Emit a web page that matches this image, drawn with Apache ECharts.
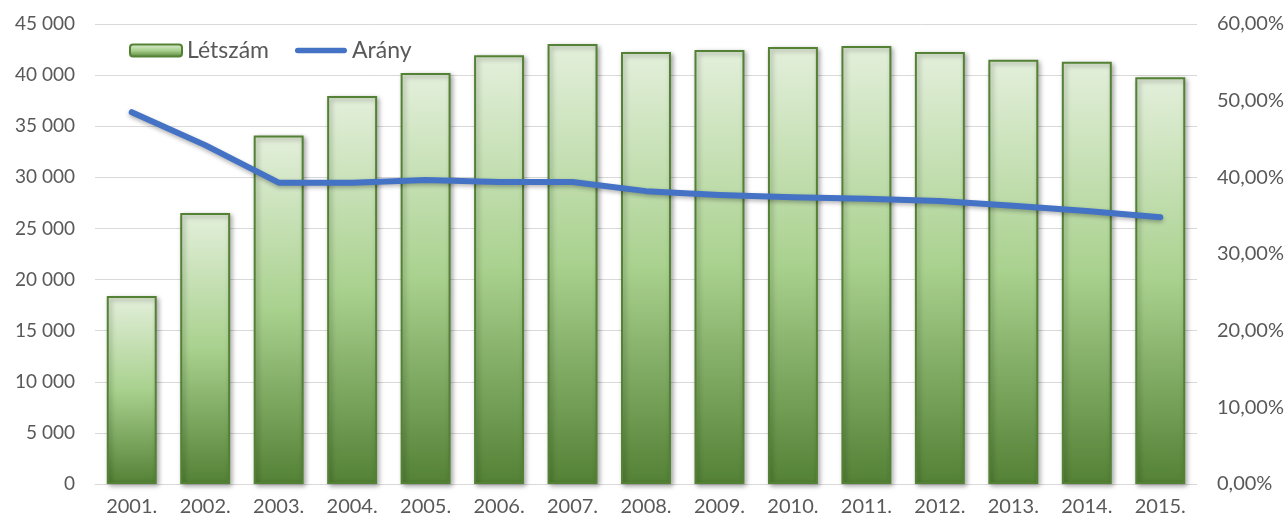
<!DOCTYPE html>
<html>
<head>
<meta charset="utf-8">
<script src="https://cdn.jsdelivr.net/npm/echarts@6/dist/echarts.min.js"></script>
<style>
    html, body { margin: 0; padding: 0; background: #fff; }
    #chart_main { width: 1288px; height: 521px; }
</style>
</head>
<body>
<div id="chart_main"></div>
<script>
// data
var years = ['2001.', '2002.', '2003.', '2004.', '2005.', '2006.', '2007.', '2008.', '2009.', '2010.', '2011.', '2012.', '2013.', '2014.', '2015.'];
var letszam = [18400, 26500, 34100, 37950, 40200, 41950, 43050, 42250, 42450, 42750, 42850, 42250, 41500, 41300, 39800];
var arany = [48.5, 44.2, 39.3, 39.3, 39.65, 39.4, 39.4, 38.2, 37.7, 37.4, 37.2, 36.9, 36.3, 35.6, 34.8];

var font = 'Lato, "DejaVu Sans", sans-serif';
var txtColor = '#595959';

var myChart = echarts.init(document.getElementById('chart_main'));
var option = {
    textStyle: { fontFamily: font },
    animation: false,
    grid: { left: 95, right: 91, top: 24, bottom: 37 },
    legend: {
        left: 124,
        top: 34,
        itemGap: 26,
        itemWidth: 52,
        itemHeight: 12,
        textStyle: { fontSize: 23, color: txtColor, fontFamily: font },
        data: [
            { name: 'Létszám' },
            {
                name: 'Arány',
                icon: 'path://M3,0 L55,0 A3,3 0 0 1 55,6 L3,6 A3,3 0 0 1 3,0 Z',
                itemStyle: { color: '#4472c4' }
            }
        ]
    },
    xAxis: {
        type: 'category',
        data: years,
        axisLine: { lineStyle: { color: '#d9d9d9', width: 1 } },
        axisTick: { show: false },
        axisLabel: { color: txtColor, fontSize: 20, margin: 13, fontFamily: font }
    },
    yAxis: [
        {
            type: 'value',
            min: 0, max: 45000, interval: 5000,
            axisLine: { show: false },
            axisTick: { show: false },
            splitLine: { lineStyle: { color: '#d9d9d9', width: 1 } },
            axisLabel: {
                color: txtColor, fontSize: 19, margin: 20, fontFamily: font,
                formatter: function (v) { return String(v).replace(/\B(?=(\d{3})+(?!\d))/g, ' '); }
            }
        },
        {
            type: 'value',
            min: 0, max: 60, interval: 10,
            axisLine: { show: false },
            axisTick: { show: false },
            splitLine: { show: false },
            axisLabel: {
                color: txtColor, fontSize: 20, margin: 20, fontFamily: font,
                formatter: function (v) { return v.toFixed(2).replace('.', ',') + '%'; }
            }
        }
    ],
    series: [
        {
            name: 'Létszám',
            type: 'bar',
            data: letszam,
            barCategoryGap: '32%',
            itemStyle: {
                color: new echarts.graphic.LinearGradient(0, 0, 0, 1, [
                    { offset: 0, color: '#e3efdb' },
                    { offset: 0.5, color: '#a9d18e' },
                    { offset: 1, color: '#538135' }
                ]),
                borderColor: '#548235',
                borderWidth: 2,
                shadowBlur: 5,
                shadowColor: 'rgba(0,0,0,0.35)',
                shadowOffsetX: 2,
                shadowOffsetY: 2
            }
        },
        {
            name: 'Arány',
            type: 'line',
            yAxisIndex: 1,
            data: arany,
            symbol: 'none',
            lineStyle: {
                color: '#4472c4',
                width: 6,
                cap: 'round',
                join: 'round',
                shadowBlur: 4,
                shadowColor: 'rgba(0,0,0,0.3)',
                shadowOffsetY: 2
            },
            itemStyle: { color: '#4472c4' }
        }
    ]
};
myChart.setOption(option);
</script>
</body>
</html>
